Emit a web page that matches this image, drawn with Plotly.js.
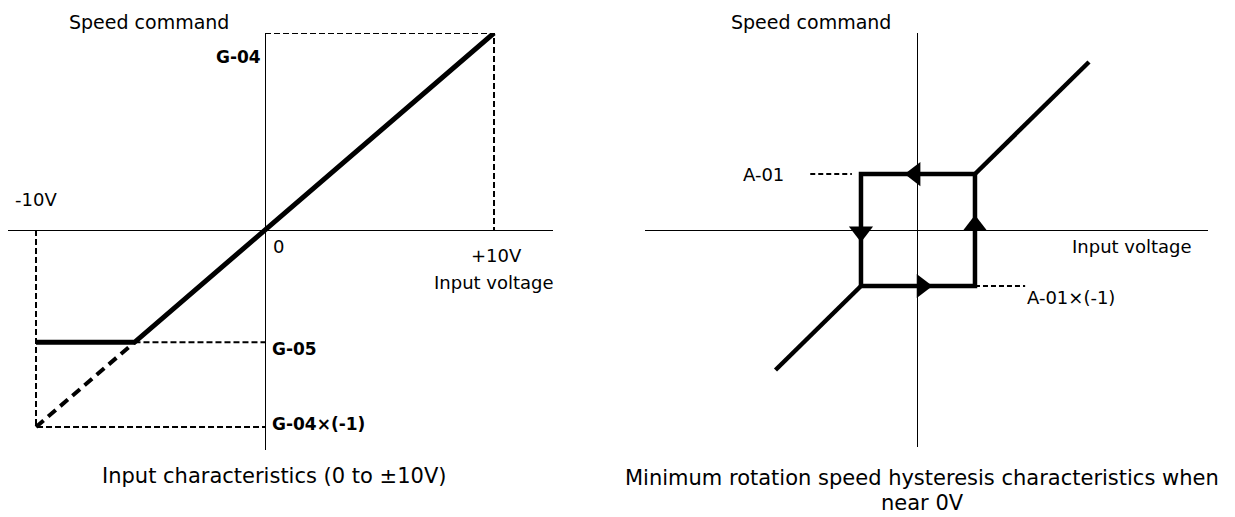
<!DOCTYPE html>
<html>
<head>
<meta charset="utf-8">
<script src="https://cdn.plot.ly/plotly-3.0.1.min.js"></script>
<style>html,body{margin:0;padding:0;background:#fff;}#chart{width:1235px;height:517px;}</style>
</head>
<body>
<div id="chart"></div>
<script>
// ---- Left panel: input characteristics (x: input voltage in V, y: speed command in % of G-04)
const inputV      = [-10, -5.7, 10];     // solid characteristic
const speedCmd    = [-57, -57, 100];
const clipV       = [-10, -5.7];         // dashed unclipped part
const clipSpeed   = [-100, -57];
const g04Level    = 100;                 // G-04
const g05Level    = -57;                 // G-05
const g04NegLevel = -100;                // G-04x(-1)
const maxV        = 10;
const minV        = -10;

// ---- Right panel: hysteresis near 0V (units of A-01)
const hystLoopX   = [-1, 1, 1, -1, -1];
const hystLoopY   = [-1, -1, 1, 1, -1];
const upperLineX  = [1, 3];
const upperLineY  = [1, 3];
const lowerLineX  = [-2.5, -1];
const lowerLineY  = [-2.5, -1];
const arrowX      = [-0.05, -1, 0.07, 1];
const arrowY      = [1, -0.03, -1, 0.08];
const arrowSym    = ['triangle-left', 'triangle-down', 'triangle-right', 'triangle-up'];
const a01Level    = 1;
const a01NegLevel = -1;

const W = 1235, H = 517;
const px = v => v / W, py = v => 1 - v / H;
const FONT = 'DejaVu Sans';

const dashThin = {color: '#000', width: 2, dash: '6px,3px'};

const traces = [
  // left guides
  {x: [0, maxV, maxV], y: [g04Level, g04Level, 0], xaxis: 'x', yaxis: 'y', mode: 'lines', line: dashThin},
  {x: [minV, minV, 0], y: [0, g04NegLevel, g04NegLevel], xaxis: 'x', yaxis: 'y', mode: 'lines', line: dashThin},
  {x: [inputV[1], 0], y: [g05Level, g05Level], xaxis: 'x', yaxis: 'y', mode: 'lines', line: dashThin},
  {x: clipV, y: clipSpeed, xaxis: 'x', yaxis: 'y', mode: 'lines', line: {color: '#000', width: 4, dash: '10px,6px'}},
  {x: inputV, y: speedCmd, xaxis: 'x', yaxis: 'y', mode: 'lines', line: {color: '#000', width: 5}},
  // right
  {x: [-1.89, -1.16], y: [a01Level, a01Level], xaxis: 'x2', yaxis: 'y2', mode: 'lines', line: {color: '#000', width: 2, dash: '5px,3px'}},
  {x: [1, 1.88], y: [a01NegLevel, a01NegLevel], xaxis: 'x2', yaxis: 'y2', mode: 'lines', line: {color: '#000', width: 2, dash: '5px,3px'}},
  {x: hystLoopX, y: hystLoopY, xaxis: 'x2', yaxis: 'y2', mode: 'lines', line: {color: '#000', width: 4.5}},
  {x: upperLineX, y: upperLineY, xaxis: 'x2', yaxis: 'y2', mode: 'lines', line: {color: '#000', width: 4.5}},
  {x: lowerLineX, y: lowerLineY, xaxis: 'x2', yaxis: 'y2', mode: 'lines', line: {color: '#000', width: 4.5}},
  {x: arrowX, y: arrowY, xaxis: 'x2', yaxis: 'y2', mode: 'markers', marker: {symbol: arrowSym, size: 21, color: '#000', line: {width: 0}}}
];

const axBase = {showgrid: false, zeroline: true, zerolinecolor: '#000', zerolinewidth: 1,
  showticklabels: false, ticks: '', showline: false, fixedrange: true};

const txt = (text, x, y, xref, yref, xanchor, size, bold) => ({
  text: bold ? '<b>' + text + '</b>' : text, x, y, xref, yref, xanchor, yanchor: 'middle',
  showarrow: false, borderpad: 0, font: {family: FONT, size, color: '#000'}
});

const annotations = [
  txt('Speed command', px(148.5), py(22), 'paper', 'paper', 'center', 19),
  txt('G-04', -0.15, 87.8, 'x', 'y', 'right', 17, true),
  txt('-10V', minV, 15.7, 'x', 'y', 'center', 18),
  txt('0', 0.3, -8.6, 'x', 'y', 'left', 18),
  txt('+10V', maxV + 0.1, -12.7, 'x', 'y', 'center', 18),
  txt('Input voltage', maxV, -26.9, 'x', 'y', 'center', 18),
  txt('G-05', 0.25, -60.4, 'x', 'y', 'left', 17, true),
  txt('G-04×(-1)', 0.25, -98.5, 'x', 'y', 'left', 17, true),
  txt('Input characteristics (0 to ±10V)', px(274), py(476), 'paper', 'paper', 'center', 21),
  txt('Speed command', px(811.5), py(22), 'paper', 'paper', 'center', 19),
  txt('A-01', -2.71, a01Level, 'x2', 'y2', 'center', 18),
  txt('A-01×(-1)', 1.9, -1.2, 'x2', 'y2', 'left', 18),
  txt('Input voltage', 3.75, -0.3, 'x2', 'y2', 'center', 18),
  txt('Minimum rotation speed hysteresis characteristics when', px(922), py(478), 'paper', 'paper', 'center', 21),
  txt('near 0V', px(922), py(503), 'paper', 'paper', 'center', 21)
];

const layout = {
  width: W, height: H, margin: {l: 0, r: 0, t: 0, b: 0},
  paper_bgcolor: '#fff', plot_bgcolor: 'rgba(0,0,0,0)', showlegend: false,
  xaxis: Object.assign({}, axBase, {domain: [px(8), px(553)], range: [-11.223, 12.576], anchor: 'y'}),
  yaxis: Object.assign({}, axBase, {domain: [py(450), py(33)], range: [-111.68, 100], anchor: 'x'}),
  xaxis2: Object.assign({}, axBase, {domain: [px(645), px(1208)], range: [-4.789, 5.088], anchor: 'y2'}),
  yaxis2: Object.assign({}, axBase, {domain: [py(447), py(33)], range: [-3.875, 3.518], anchor: 'x2'}),
  annotations
};

Plotly.newPlot('chart', traces, layout, {staticPlot: true, displayModeBar: false});
</script>
</body>
</html>
